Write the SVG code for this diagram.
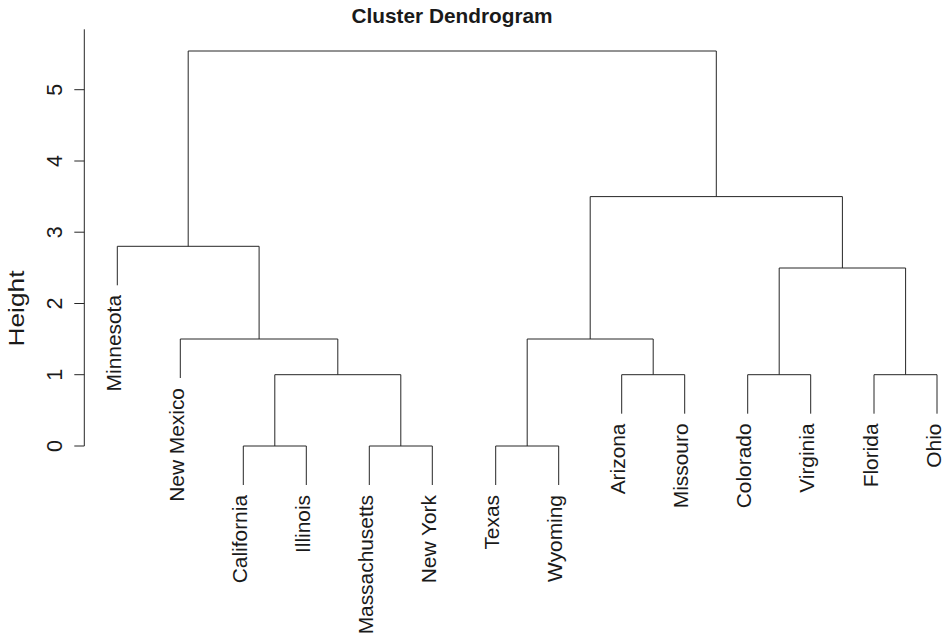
<svg xmlns="http://www.w3.org/2000/svg" width="943" height="636" viewBox="0 0 943 636">
<style>
  text { font-family: "Liberation Sans", Arial, sans-serif; fill: #1a1a1a; }
  .lbl { font-size: 20.9px; text-anchor: end; }
  .tick { font-size: 21.5px; text-anchor: middle; }
  .title { font-size: 20.8px; font-weight: bold; text-anchor: middle; }
  .ylab { font-size: 22px; text-anchor: middle; }
  .ln { fill: none; stroke: #262626; stroke-width: 1; }
</style>
<rect width="943" height="636" fill="#ffffff"/>
<text class="title" x="452" y="23.3">Cluster Dendrogram</text>
<g id="axis">
  <path class="ln" d="M84.3,29.3 V446 M74.3,446 H84.3 M74.3,374.7 H84.3 M74.3,303.5 H84.3 M74.3,232.2 H84.3 M74.3,161 H84.3 M74.3,89.7 H84.3"/>
  <text class="tick" transform="translate(62.3,446) rotate(-90)">0</text>
  <text class="tick" transform="translate(62.3,374.7) rotate(-90)">1</text>
  <text class="tick" transform="translate(62.3,303.5) rotate(-90)">2</text>
  <text class="tick" transform="translate(62.3,232.2) rotate(-90)">3</text>
  <text class="tick" transform="translate(62.3,161) rotate(-90)">4</text>
  <text class="tick" transform="translate(62.3,89.7) rotate(-90)">5</text>
  <text class="ylab" transform="translate(23.5,308.5) rotate(-90)" textLength="76" lengthAdjust="spacingAndGlyphs">Height</text>
</g>
<g id="connectors">
  <path class="ln" d="M117.3,285.3 V246.3 H259.1 V339 M180.3,378 V339 H337.8 V374.7 M274.8,374.7 H400.8 M274.8,374.7 V446 M400.8,374.7 V446 M243.3,485 V446 H306.3 V485 M369.3,485 V446 H432.3 V485"/>
  <path class="ln" d="M188.2,246.3 V51 H716.3 V196.6"/>
  <path class="ln" d="M590.2,339 V196.6 H842.4 V268 M527.2,446 V339 H653.2 V374.7 M495.7,485 V446 H558.7 V485 M621.7,413.7 V374.7 H684.7 V413.7 M779.2,374.7 V268 H905.6 V374.7 M747.7,413.7 V374.7 H810.7 V413.7 M874,413.7 V374.7 H937 V413.7"/>
</g>
<g id="leaf-minnesota"><text class="lbl" transform="translate(120.8,295) rotate(-90)">Minnesota</text></g>
<g id="leaf-new-mexico"><text class="lbl" transform="translate(183.8,388) rotate(-90)">New Mexico</text></g>
<g id="leaf-california"><text class="lbl" transform="translate(246.8,495) rotate(-90)">California</text></g>
<g id="leaf-illinois"><text class="lbl" transform="translate(309.8,495) rotate(-90)">Illinois</text></g>
<g id="leaf-massachusetts"><text class="lbl" transform="translate(372.8,495) rotate(-90)">Massachusetts</text></g>
<g id="leaf-new-york"><text class="lbl" transform="translate(435.8,495) rotate(-90)">New York</text></g>
<g id="leaf-texas"><text class="lbl" transform="translate(499.2,495) rotate(-90)">Texas</text></g>
<g id="leaf-wyoming"><text class="lbl" transform="translate(562.2,495) rotate(-90)">Wyoming</text></g>
<g id="leaf-arizona"><text class="lbl" transform="translate(625.2,423.5) rotate(-90)">Arizona</text></g>
<g id="leaf-missouro"><text class="lbl" transform="translate(688.2,423.5) rotate(-90)">Missouro</text></g>
<g id="leaf-colorado"><text class="lbl" transform="translate(751.2,423.5) rotate(-90)">Colorado</text></g>
<g id="leaf-virginia"><text class="lbl" transform="translate(814.2,423.5) rotate(-90)">Virginia</text></g>
<g id="leaf-florida"><text class="lbl" transform="translate(877.5,423.5) rotate(-90)">Florida</text></g>
<g id="leaf-ohio"><text class="lbl" transform="translate(940.5,423.5) rotate(-90)">Ohio</text></g>
</svg>
